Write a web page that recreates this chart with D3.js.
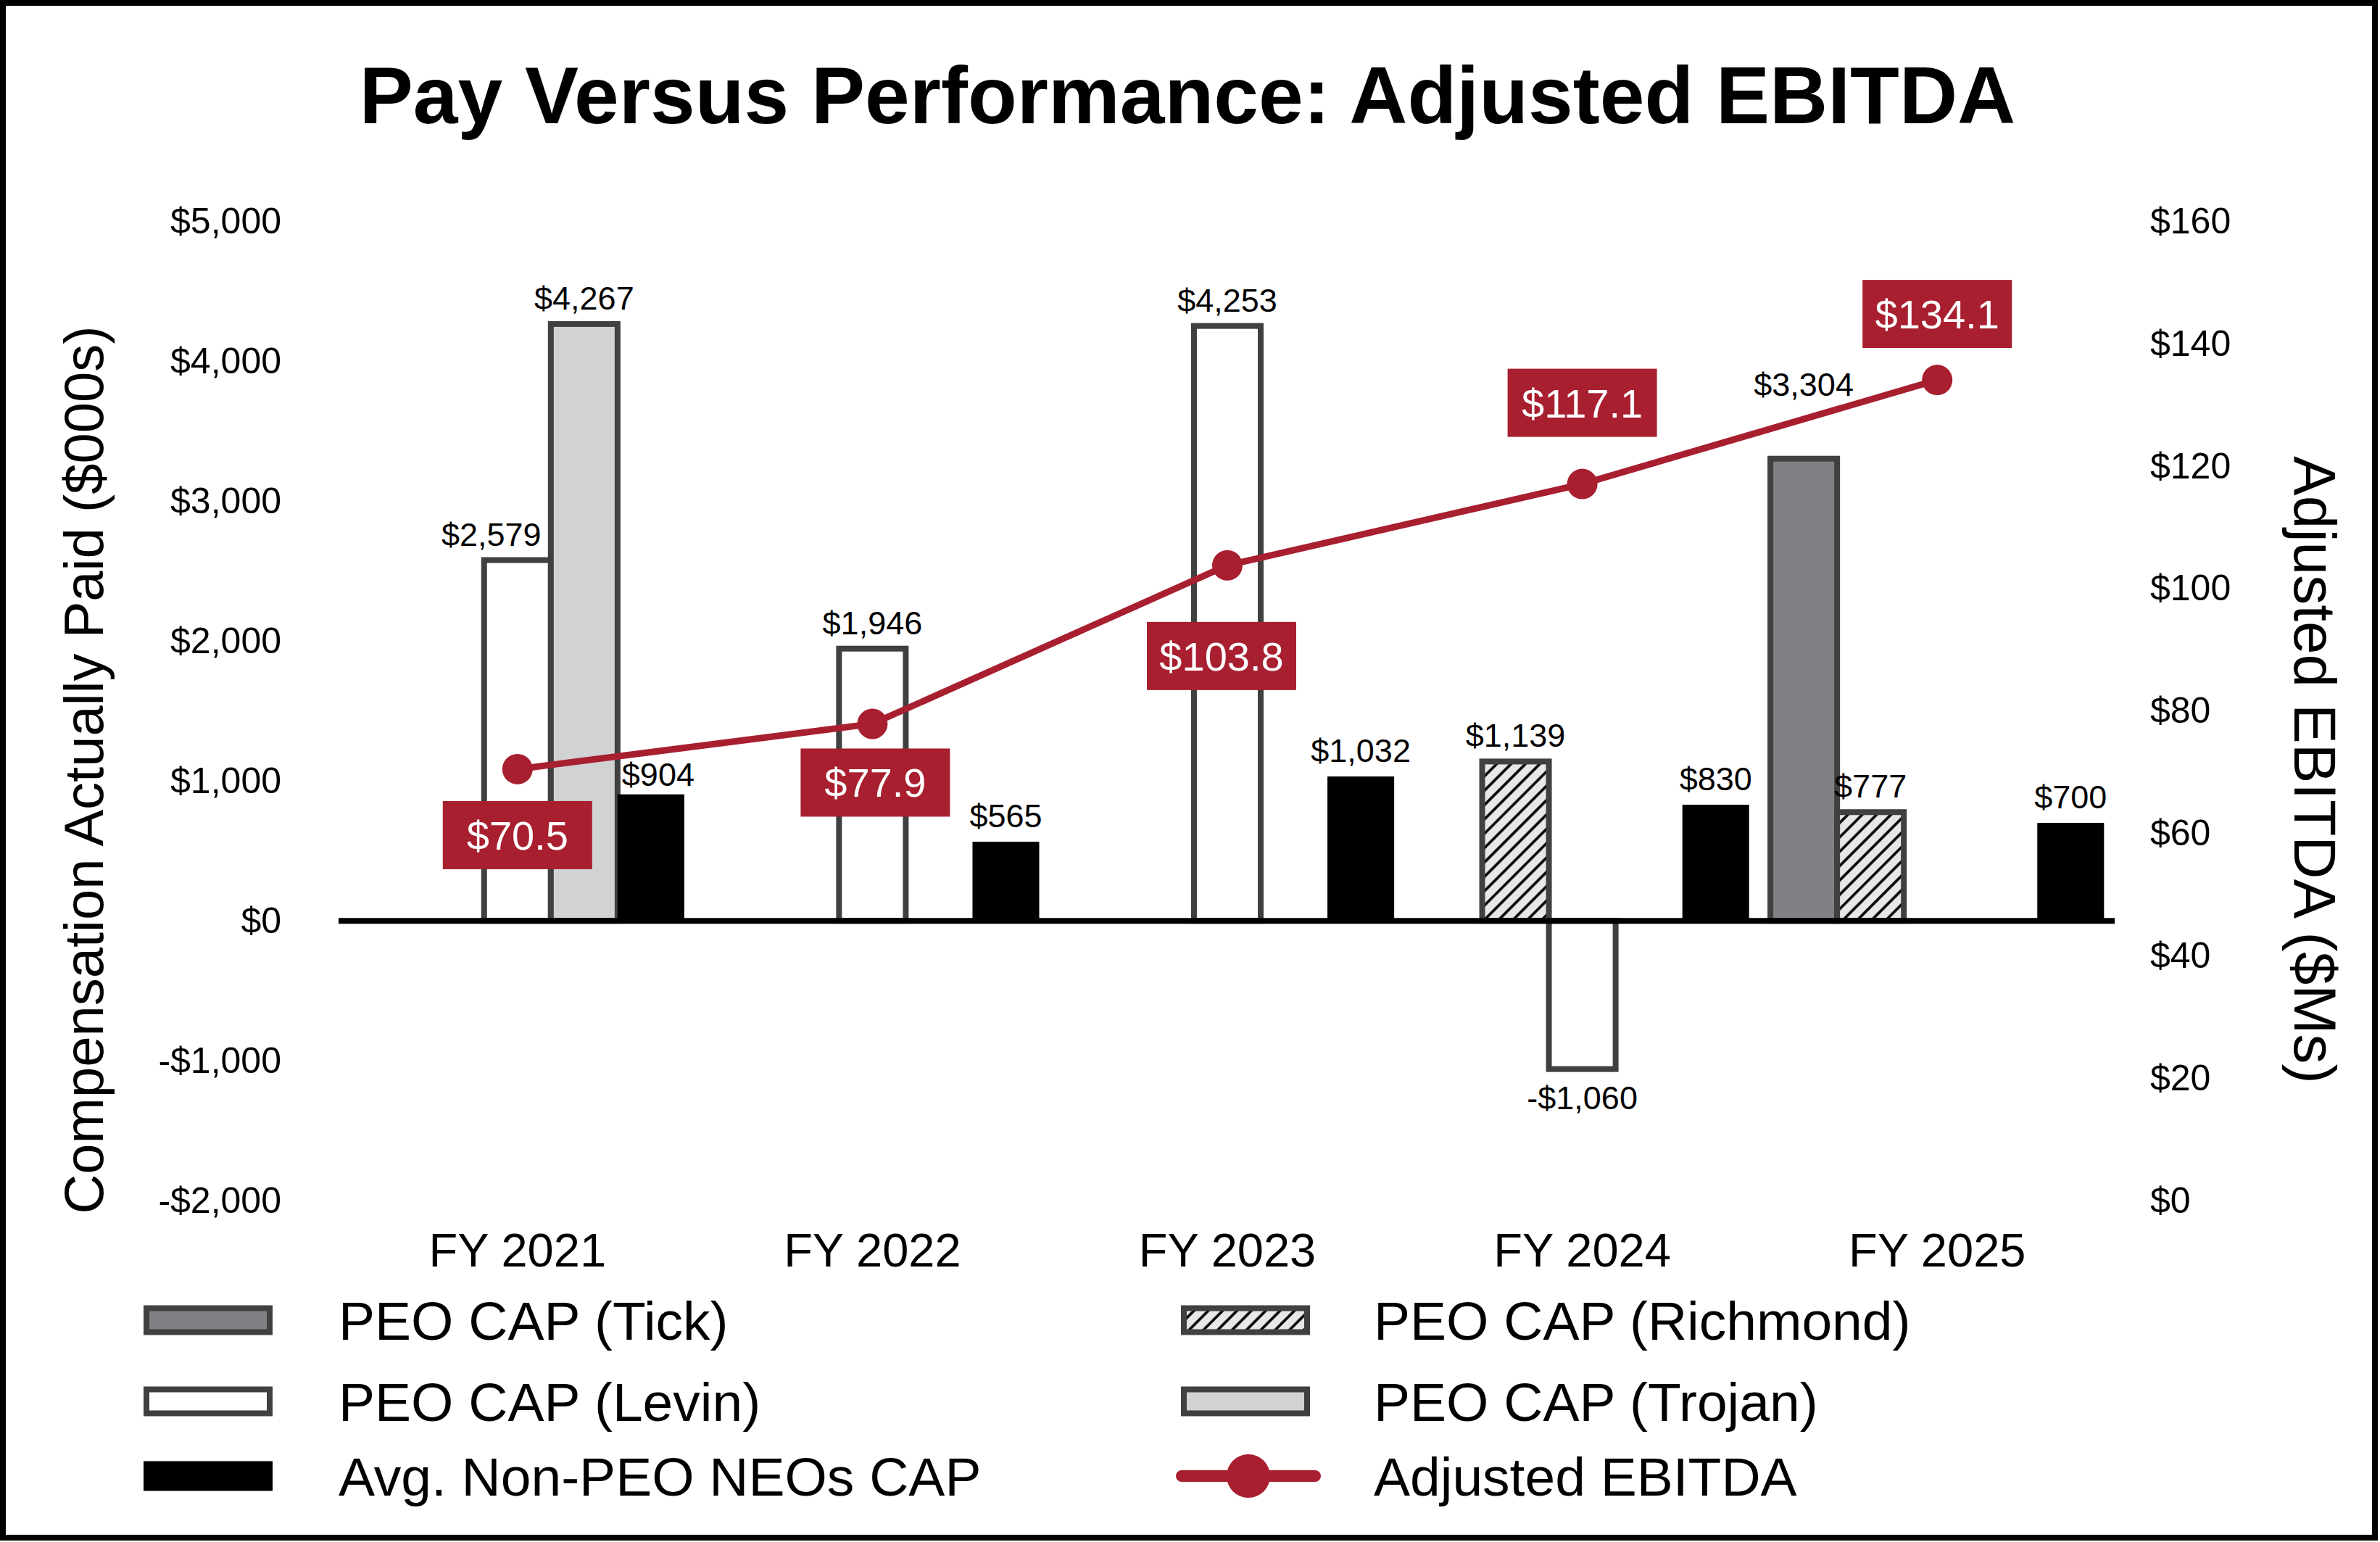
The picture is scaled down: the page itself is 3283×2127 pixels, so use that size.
<!DOCTYPE html>
<html>
<head>
<meta charset="utf-8">
<script src="https://cdn.jsdelivr.net/npm/d3@7"></script>
<style>
  body { margin: 0; background: #fff; }
  text { font-family: "Liberation Sans", Arial, sans-serif; }
</style>
</head>
<body>
<div id="chart"></div>
<script>
// Canvas size.
const WIDTH = 3283;
const HEIGHT = 2127;

// The data.
const years = ["FY 2021", "FY 2022", "FY 2023", "FY 2024", "FY 2025"];
const capTick = [null, null, null, null, 3304];
const capRichmond = [null, null, null, 1139, 777];
const capLevin = [2579, 1946, 4253, -1060, null];
const capTrojan = [4267, null, null, null, null];
const capNonPeo = [904, 565, 1032, 830, 700];
const ebitda = [70.5, 77.9, 103.8, 117.1, 134.1];
const leftTicks = [-2000, -1000, 0, 1000, 2000, 3000, 4000, 5000];
const rightTicks = [0, 20, 40, 60, 80, 100, 120, 140, 160];

// Colours.
const RED = "#a81f2f";
const EDGE = "#404041";

// Series table, in cluster order.
const series = [
    { key: "tick", name: "PEO CAP (Tick)", values: capTick, fill: "#808184", stroke: EDGE },
    { key: "richmond", name: "PEO CAP (Richmond)", values: capRichmond, fill: "url(#hatch)", stroke: EDGE },
    { key: "levin", name: "PEO CAP (Levin)", values: capLevin, fill: "#ffffff", stroke: EDGE },
    { key: "trojan", name: "PEO CAP (Trojan)", values: capTrojan, fill: "#d1d2d4", stroke: EDGE },
    { key: "nonpeo", name: "Avg. Non-PEO NEOs CAP", values: capNonPeo, fill: "#000000", stroke: "none" }
];

// A few labels were moved by hand in the original.
const labelNudge = {
    "levin|FY 2021": { dx: -36, dy: 0 },
    "nonpeo|FY 2021": { dx: 10, dy: 8 },
    "tick|FY 2025": { dx: 0, dy: -67 }
};
// Offset of each EBITDA label box from its point.
const ebitdaLabelDx = [0, 4, -8, 0, 0];
const ebitdaLabelDy = [91, 81, 125, -112, -91];

const money = v => (v < 0 ? "-$" : "$") + d3.format(",")(Math.abs(v));

const svg = d3.select("#chart")
    .append("svg")
    .attr("width", WIDTH)
    .attr("height", HEIGHT);

svg.append("rect")
    .attr("width", WIDTH).attr("height", HEIGHT)
    .attr("fill", "#fff");

// Hatch pattern for Richmond.
const defs = svg.append("defs");
const pat = defs.append("pattern")
    .attr("id", "hatch")
    .attr("patternUnits", "userSpaceOnUse")
    .attr("width", 14).attr("height", 14)
    .attr("patternTransform", "rotate(45)");
pat.append("rect").attr("width", 14).attr("height", 14).attr("fill", "#e6e7e8");
pat.append("line")
    .attr("x1", 7).attr("y1", 0).attr("x2", 7).attr("y2", 14)
    .attr("stroke", "#000").attr("stroke-width", 3.6);

// Scales.
const x0 = d3.scaleBand()
    .domain(years)
    .range([469, 2917])
    .paddingInner(0.06)
    .paddingOuter(0.03);

const x1 = d3.scaleBand()
    .domain(series.map(s => s.key))
    .range([0, x0.bandwidth()]);

const yLeft = d3.scaleLinear().domain([-2000, 5000]).range([1656, 305.5]);
const yRight = d3.scaleLinear().domain([0, 160]).range([1656, 305.5]);

// Title.
svg.append("text")
    .attr("x", 1638).attr("y", 170)
    .attr("text-anchor", "middle")
    .style("font-size", "111px").style("font-weight", "bold")
    .text("Pay Versus Performance: Adjusted EBITDA");

// Axes.
const leftAxis = svg.append("g")
    .attr("transform", "translate(388,0)")
    .call(d3.axisLeft(yLeft).tickValues(leftTicks).tickSize(0).tickPadding(0).tickFormat(money));
leftAxis.select(".domain").remove();
leftAxis.selectAll("text").style("font-size", "50px").attr("fill", "#000")
    .style("font-family", "'Liberation Sans', Arial, sans-serif");

const rightAxis = svg.append("g")
    .attr("transform", "translate(2966,0)")
    .call(d3.axisRight(yRight).tickValues(rightTicks).tickSize(0).tickPadding(0).tickFormat(d => "$" + d));
rightAxis.select(".domain").remove();
rightAxis.selectAll("text").style("font-size", "50px").attr("fill", "#000")
    .style("font-family", "'Liberation Sans', Arial, sans-serif");

svg.append("text")
    .attr("transform", "translate(142,1062) rotate(-90)")
    .attr("text-anchor", "middle")
    .style("font-size", "76px")
    .text("Compensation Actually Paid ($000s)");

svg.append("text")
    .attr("transform", "translate(3165,1062) rotate(90)")
    .attr("text-anchor", "middle")
    .style("font-size", "82px")
    .text("Adjusted EBITDA ($Ms)");

// Category labels.
svg.append("g").selectAll("text")
    .data(years)
    .enter()
    .append("text")
    .attr("x", d => x0(d) + x0.bandwidth() / 2)
    .attr("y", 1747)
    .attr("text-anchor", "middle")
    .style("font-size", "65px")
    .text(d => d);

// Bars.
const barData = series.flatMap(s =>
    s.values.map((v, i) => ({ s, year: years[i], v })).filter(d => d.v !== null));

svg.append("g").selectAll("rect")
    .data(barData)
    .enter()
    .append("rect")
    .attr("x", d => x0(d.year) + x1(d.s.key))
    .attr("y", d => Math.min(yLeft(d.v), yLeft(0)))
    .attr("width", x1.bandwidth())
    .attr("height", d => Math.abs(yLeft(d.v) - yLeft(0)))
    .attr("fill", d => d.s.fill)
    .attr("stroke", d => d.s.stroke)
    .attr("stroke-width", 8);

// Bar labels.
svg.append("g").selectAll("text")
    .data(barData)
    .enter()
    .append("text")
    .attr("x", d => {
        const n = labelNudge[d.s.key + "|" + d.year];
        return x0(d.year) + x1(d.s.key) + x1.bandwidth() / 2 + (n ? n.dx : 0);
    })
    .attr("y", d => {
        const n = labelNudge[d.s.key + "|" + d.year];
        const base = d.v < 0 ? yLeft(d.v) + 55 : yLeft(d.v) - 20;
        return base + (n ? n.dy : 0);
    })
    .attr("text-anchor", "middle")
    .style("font-size", "45px")
    .text(d => money(d.v));

// Zero line.
svg.append("line")
    .attr("x1", x0.range()[0] - 2).attr("x2", x0.range()[1])
    .attr("y1", yLeft(0)).attr("y2", yLeft(0))
    .attr("stroke", "#000").attr("stroke-width", 8);

// Adjusted EBITDA line.
const pts = ebitda.map((v, i) => ({ v, i, x: x0(years[i]) + x0.bandwidth() / 2, y: yRight(v) }));

svg.append("path")
    .datum(pts)
    .attr("d", d3.line().x(d => d.x).y(d => d.y))
    .attr("fill", "none")
    .attr("stroke", RED)
    .attr("stroke-width", 9);

svg.append("g").selectAll("circle")
    .data(pts)
    .enter()
    .append("circle")
    .attr("cx", d => d.x).attr("cy", d => d.y)
    .attr("r", 21)
    .attr("fill", RED);

const boxes = svg.append("g").selectAll("g")
    .data(pts)
    .enter()
    .append("g")
    .attr("transform", d => `translate(${d.x + ebitdaLabelDx[d.i]},${d.y + ebitdaLabelDy[d.i]})`);
boxes.append("rect")
    .attr("x", -103).attr("y", -47)
    .attr("width", 206).attr("height", 94)
    .attr("fill", RED);
boxes.append("text")
    .attr("text-anchor", "middle")
    .attr("y", 20)
    .attr("fill", "#fff")
    .style("font-size", "56px")
    .text(d => "$" + d3.format(".1f")(d.v));

// Legend.
const legendItems = [
    { s: series[0], col: 0, row: 0 },
    { s: series[2], col: 0, row: 1 },
    { s: series[4], col: 0, row: 2 },
    { s: series[1], col: 1, row: 0 },
    { s: series[3], col: 1, row: 1 }
];
const colSwatchX = [198, 1629];
const colTextX = [467, 1895];
const rowY = [1821, 1933, 2036];

const legend = svg.append("g");
legendItems.forEach(it => {
    const cy = rowY[it.row];
    if (it.s.stroke === "none") {
        legend.append("rect")
            .attr("x", colSwatchX[it.col]).attr("y", cy - 20.5)
            .attr("width", 178).attr("height", 41)
            .attr("fill", it.s.fill);
    } else {
        legend.append("rect")
            .attr("x", colSwatchX[it.col] + 4).attr("y", cy - 16.5)
            .attr("width", 170).attr("height", 33)
            .attr("fill", it.s.fill)
            .attr("stroke", it.s.stroke).attr("stroke-width", 8);
    }
    legend.append("text")
        .attr("x", colTextX[it.col]).attr("y", cy + 27)
        .style("font-size", "75px")
        .text(it.s.name);
});

// Legend entry for the line.
legend.append("line")
    .attr("x1", 1630).attr("x2", 1814)
    .attr("y1", rowY[2]).attr("y2", rowY[2])
    .attr("stroke", RED).attr("stroke-width", 16)
    .attr("stroke-linecap", "round");
legend.append("circle")
    .attr("cx", 1722).attr("cy", rowY[2]).attr("r", 30)
    .attr("fill", RED);
legend.append("text")
    .attr("x", colTextX[1]).attr("y", rowY[2] + 27)
    .style("font-size", "75px")
    .text("Adjusted EBITDA");

// Outer frame.
svg.append("rect")
    .attr("x", 4).attr("y", 4)
    .attr("width", 3272).attr("height", 2117)
    .attr("fill", "none")
    .attr("stroke", "#000").attr("stroke-width", 8);
</script>
</body>
</html>
